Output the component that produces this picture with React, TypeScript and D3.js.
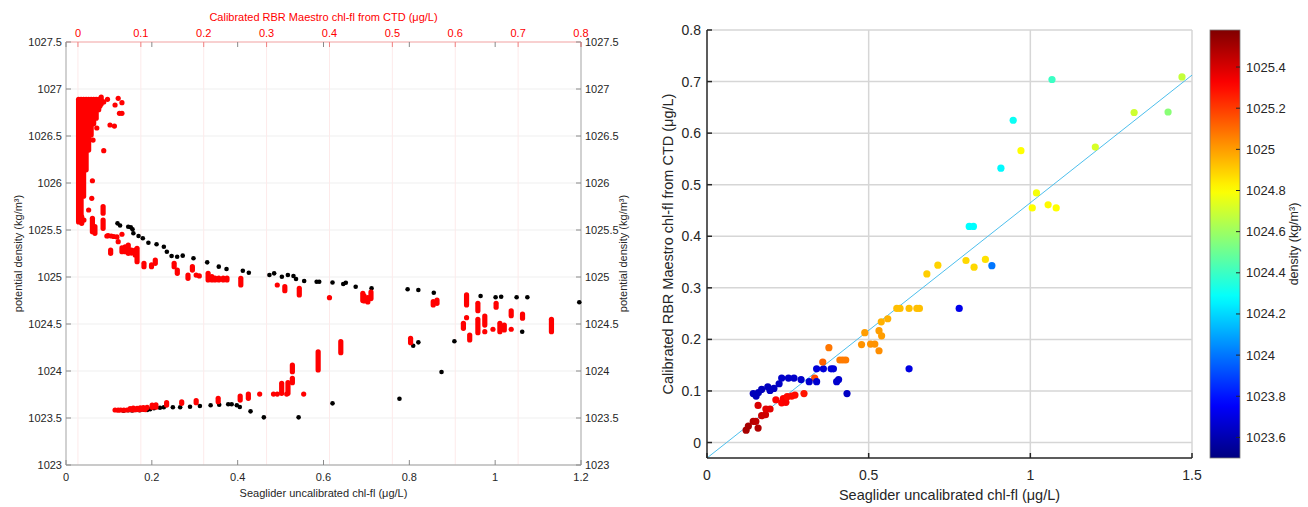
import React from 'react';
import * as d3 from 'd3';

const FONT = '"Liberation Sans", Arial, Helvetica, sans-serif';

// ---------- Left panel: profiles against potential density ----------
// Seaglider uncalibrated chl-fl (bottom axis) : [chl, density]
const gliderPoints: [number, number][] = [
  [0.120, 1025.571], [0.126, 1025.548], [0.145, 1025.535], [0.151, 1025.529], [0.155, 1025.507],
  [0.157, 1025.465], [0.169, 1025.436], [0.179, 1025.412], [0.192, 1025.365], [0.211, 1025.348],
  [0.228, 1025.322], [0.235, 1025.269], [0.246, 1025.223], [0.259, 1025.216], [0.272, 1025.227],
  [0.297, 1025.199], [0.329, 1025.156], [0.356, 1025.110], [0.374, 1025.085], [0.412, 1025.067],
  [0.426, 1025.046], [0.474, 1025.021], [0.485, 1025.039], [0.503, 1025.003], [0.517, 1025.021],
  [0.530, 1025.011], [0.536, 1024.979], [0.555, 1024.957], [0.584, 1024.950], [0.590, 1024.950],
  [0.621, 1024.941], [0.646, 1024.926], [0.652, 1024.939], [0.675, 1024.897], [0.712, 1024.880],
  [0.796, 1024.869], [0.821, 1024.862], [0.857, 1024.833], [0.966, 1024.798], [1.001, 1024.784],
  [1.014, 1024.790], [1.050, 1024.784], [1.075, 1024.784], [1.196, 1024.731],
  [0.809, 1024.269], [0.821, 1024.305], [0.905, 1024.316], [1.063, 1024.418], [0.875, 1023.989],
  [0.777, 1023.705], [0.621, 1023.656], [0.542, 1023.507], [0.461, 1023.507], [0.430, 1023.571],
  [0.405, 1023.617], [0.398, 1023.635], [0.386, 1023.646], [0.378, 1023.646], [0.357, 1023.641],
  [0.337, 1023.635], [0.312, 1023.628], [0.289, 1023.620], [0.266, 1023.614], [0.249, 1023.614],
  [0.228, 1023.614], [0.219, 1023.609], [0.205, 1023.603], [0.196, 1023.593], [0.134, 1023.578],
  [0.145, 1023.582], [0.154, 1023.580], [0.163, 1023.585], [0.172, 1023.583], [0.182, 1023.588],
  [0.189, 1023.586],
];

// Calibrated CTD chl-fl (top axis), single samples : [chl, density]
const ctdPoints: [number, number][] = [
  [0.047, 1026.890], [0.064, 1026.901], [0.059, 1026.830], [0.070, 1026.854], [0.066, 1026.741],
  [0.070, 1026.741], [0.051, 1026.617], [0.058, 1026.606], [0.041, 1026.344], [0.023, 1026.024],
  [0.022, 1025.837], [0.017, 1025.713], [0.0095, 1025.606], [0.037, 1026.915], [0.041, 1026.862],
  [0.035, 1026.819], [0.030, 1026.585], [0.024, 1026.457],
  [0.046, 1025.436], [0.048, 1025.440], [0.053, 1025.436], [0.057, 1025.431], [0.062, 1025.426],
  [0.070, 1025.455], [0.064, 1025.376],
  [0.188, 1025.021], [0.193, 1025.011], [0.317, 1024.915], [0.400, 1024.780], [0.618, 1024.567],
  [0.660, 1024.444], [0.689, 1024.444], [0.647, 1024.418],
  [0.289, 1023.755], [0.311, 1023.755], [0.317, 1023.755], [0.332, 1023.755], [0.359, 1023.755],
  [0.059, 1023.585], [0.064, 1023.583], [0.068, 1023.585], [0.073, 1023.583], [0.078, 1023.585],
  [0.083, 1023.588], [0.088, 1023.585], [0.092, 1023.590], [0.097, 1023.588], [0.102, 1023.592],
  [0.107, 1023.590], [0.083, 1023.600], [0.088, 1023.605], [0.094, 1023.603], [0.099, 1023.608],
  [0.104, 1023.610], [0.110, 1023.612],
];

// Calibrated CTD chl-fl, densely sampled stretches : [chl, densityTop, densityBottom]
const ctdRuns: [number, number, number][] = [
  [0.001, 1026.89, 1025.585], [0.005, 1026.89, 1025.66], [0.009, 1026.89, 1025.86],
  [0.013, 1026.89, 1026.14], [0.017, 1026.89, 1026.35], [0.021, 1026.89, 1026.51],
  [0.025, 1026.89, 1026.63], [0.029, 1026.89, 1026.69], [0.033, 1026.89, 1026.78],
  [0.037, 1026.89, 1026.84],
  [0.006, 1025.641, 1025.571], [0.023, 1025.624, 1025.482], [0.027, 1025.535, 1025.465],
  [0.040, 1025.748, 1025.678], [0.040, 1025.606, 1025.518], [0.052, 1025.287, 1025.252],
  [0.070, 1025.309, 1025.269], [0.075, 1025.322, 1025.269], [0.080, 1025.340, 1025.252],
  [0.085, 1025.287, 1025.255], [0.091, 1025.287, 1025.234], [0.094, 1025.305, 1025.163],
  [0.105, 1025.146, 1025.110], [0.117, 1025.128, 1025.110], [0.123, 1025.181, 1025.146],
  [0.153, 1025.146, 1025.110], [0.158, 1025.074, 1025.039], [0.175, 1025.021, 1024.986],
  [0.182, 1025.110, 1025.074], [0.207, 1025.039, 1024.968], [0.213, 1025.003, 1024.968],
  [0.218, 1024.989, 1024.968], [0.224, 1024.989, 1024.968], [0.231, 1024.989, 1024.968],
  [0.237, 1024.989, 1024.968], [0.259, 1024.986, 1024.915], [0.329, 1024.897, 1024.854],
  [0.352, 1024.880, 1024.809], [0.453, 1024.827, 1024.750], [0.455, 1024.800, 1024.745],
  [0.461, 1024.780, 1024.735], [0.466, 1024.840, 1024.770], [0.418, 1024.312, 1024.195],
  [0.529, 1024.348, 1024.301], [0.565, 1024.737, 1024.702], [0.571, 1024.755, 1024.720],
  [0.618, 1024.809, 1024.702], [0.613, 1024.507, 1024.454], [0.623, 1024.383, 1024.330],
  [0.636, 1024.720, 1024.641], [0.636, 1024.550, 1024.407], [0.647, 1024.585, 1024.489],
  [0.665, 1024.720, 1024.678], [0.671, 1024.507, 1024.418], [0.678, 1024.489, 1024.436],
  [0.689, 1024.641, 1024.588], [0.707, 1024.606, 1024.561], [0.753, 1024.550, 1024.418],
  [0.118, 1023.638, 1023.614], [0.124, 1023.640, 1023.615], [0.141, 1023.663, 1023.638],
  [0.165, 1023.673, 1023.656], [0.188, 1023.684, 1023.663], [0.223, 1023.709, 1023.673],
  [0.258, 1023.734, 1023.691], [0.271, 1023.755, 1023.709], [0.324, 1023.869, 1023.763],
  [0.334, 1023.876, 1023.763], [0.341, 1024.064, 1023.993], [0.341, 1023.922, 1023.876],
  [0.382, 1024.205, 1024.011],
];

const gliderTicks = [0, 0.2, 0.4, 0.6, 0.8, 1, 1.2];
const ctdTicks = [0, 0.1, 0.2, 0.3, 0.4, 0.5, 0.6, 0.7, 0.8];
const densityTicks = [1023, 1023.5, 1024, 1024.5, 1025, 1025.5, 1026, 1026.5, 1027, 1027.5];

// ---------- Right panel: matched samples ----------
const matchGlider = [
  0.121, 0.128, 0.143, 0.151, 0.158, 0.158, 0.169, 0.181, 0.182, 0.195, 0.213, 0.231, 0.236, 0.244,
  0.248, 0.262, 0.272, 0.300, 0.333,
  0.143, 0.152, 0.159, 0.169, 0.188, 0.195, 0.207, 0.223, 0.231, 0.252, 0.269, 0.291, 0.316, 0.339,
  0.339, 0.360, 0.384, 0.391, 0.401, 0.407, 0.433, 0.625, 0.780, 0.881,
  0.358, 0.377, 0.411, 0.420, 0.429, 0.478, 0.488, 0.506, 0.519, 0.532, 0.532, 0.540, 0.539, 0.559,
  0.587, 0.597, 0.625, 0.649, 0.657, 0.680, 0.714, 0.801, 0.826, 0.861,
  0.811, 0.824, 0.909, 0.947, 0.971, 1.006, 1.019, 1.055, 1.080, 1.067, 1.201, 1.321, 1.426, 1.469,
];
const matchCtd = [
  0.024, 0.032, 0.041, 0.041, 0.028, 0.072, 0.052, 0.054, 0.065, 0.065, 0.083, 0.077, 0.085, 0.078,
  0.089, 0.090, 0.092, 0.095, 0.125,
  0.095, 0.090, 0.097, 0.103, 0.108, 0.101, 0.105, 0.114, 0.125, 0.125, 0.125, 0.122, 0.118, 0.143,
  0.118, 0.143, 0.143, 0.143, 0.118, 0.122, 0.095, 0.143, 0.260, 0.343,
  0.156, 0.184, 0.160, 0.160, 0.160, 0.190, 0.213, 0.191, 0.191, 0.178, 0.217, 0.207, 0.234, 0.240,
  0.260, 0.260, 0.260, 0.260, 0.260, 0.327, 0.344, 0.353, 0.340, 0.355,
  0.419, 0.419, 0.532, 0.625, 0.566, 0.455, 0.484, 0.461, 0.455, 0.704, 0.573, 0.640, 0.641, 0.709,
];
const matchDensity = [
  1025.50, 1025.50, 1025.47, 1025.45, 1025.48, 1025.40, 1025.43, 1025.42, 1025.38, 1025.38, 1025.33,
  1025.32, 1025.32, 1025.33, 1025.30, 1025.30, 1025.30, 1025.28, 1025.17,
  1023.62, 1023.62, 1023.62, 1023.62, 1023.63, 1023.63, 1023.63, 1023.64, 1023.65, 1023.65, 1023.65,
  1023.65, 1023.66, 1023.68, 1023.66, 1023.68, 1023.68, 1023.68, 1023.66, 1023.66, 1023.64, 1023.70,
  1023.72, 1024.00,
  1025.12, 1025.08, 1025.07, 1025.07, 1025.07, 1025.02, 1025.00, 1025.02, 1025.02, 1025.03, 1025.00,
  1025.00, 1024.96, 1024.96, 1024.93, 1024.93, 1024.93, 1024.93, 1024.93, 1024.90, 1024.89, 1024.88,
  1024.88, 1024.86,
  1024.28, 1024.28, 1024.27, 1024.30, 1024.80, 1024.80, 1024.78, 1024.81, 1024.80, 1024.40, 1024.72,
  1024.70, 1024.56, 1024.68,
];
const fitSlope = 0.495;
const fitIntercept = -0.03;

const scatterXTicks = [0, 0.5, 1, 1.5];
const scatterYTicks = [0, 0.1, 0.2, 0.3, 0.4, 0.5, 0.6, 0.7, 0.8];
const colorbarTicks = [1023.6, 1023.8, 1024, 1024.2, 1024.4, 1024.6, 1024.8, 1025, 1025.2, 1025.4];
const densityRange: [number, number] = [1023.5, 1025.58];

// MATLAB-style jet colormap
function jet(t: number): string {
  const c = (v: number) => Math.max(0, Math.min(1, v));
  const r = c(1.5 - Math.abs(4 * t - 3));
  const g = c(1.5 - Math.abs(4 * t - 2));
  const b = c(1.5 - Math.abs(4 * t - 1));
  return d3.rgb(r * 255, g * 255, b * 255).formatHex();
}

const fmt = (v: number) => String(+v.toFixed(2));

export default function App() {
  // left panel geometry
  const L = { x0: 66, x1: 581, y0: 42, y1: 465 };
  const xG = d3.scaleLinear().domain([0, 1.2]).range([L.x0, L.x1]);
  const xC = d3.scaleLinear().domain([-0.019, 0.8]).range([L.x0, L.x1]);
  const yD = d3.scaleLinear().domain([1023, 1027.5]).range([L.y1, L.y0]);

  // right panel geometry
  const R = { x0: 707, x1: 1192, y0: 30, y1: 458 };
  const xS = d3.scaleLinear().domain([0, 1.5]).range([R.x0, R.x1]);
  const yC = d3.scaleLinear().domain([-0.03, 0.8]).range([R.y1, R.y0]);
  const cNorm = d3.scaleLinear().domain(densityRange).range([0, 1]).clamp(true);
  const colorOf = (d: number) => jet(cNorm(d));

  // colorbar
  const CB = { x0: 1210, x1: 1240, y0: 30, y1: 458 };
  const yCb = d3.scaleLinear().domain(densityRange).range([CB.y1, CB.y0]);
  const gradStops = d3.range(0, 1.0001, 0.02);

  const fitLine = d3.line<number>()
    .x((v) => xS(v))
    .y((v) => yC(fitSlope * v + fitIntercept));

  const tickColor = '#262626';
  const boxGray = '#b8b8b8';

  return (
    <div style={{ position: 'fixed', left: 0, top: 0 }}>
      <svg width={1308} height={507} style={{ display: 'block', background: '#fff', fontFamily: FONT }}>
        <defs>
          <clipPath id="scatterClip">
            <rect x={R.x0} y={R.y0} width={R.x1 - R.x0} height={R.y1 - R.y0} />
          </clipPath>
          <linearGradient id="jetGrad" x1="0" y1="1" x2="0" y2="0">
            {gradStops.map((t) => (
              <stop key={t} offset={t} stopColor={jet(t)} />
            ))}
          </linearGradient>
        </defs>

        {/* ===== Left panel ===== */}
        <g>
          {densityTicks.slice(1, -1).map((d) => (
            <line key={'hg' + d} x1={L.x0} x2={L.x1} y1={yD(d)} y2={yD(d)} stroke="#efefef" strokeWidth={1} />
          ))}
          {ctdTicks.slice(0, -1).map((v) => (
            <line key={'vg' + v} x1={xC(v)} x2={xC(v)} y1={L.y0} y2={L.y1} stroke="#fdeaea" strokeWidth={1} />
          ))}

          {/* box */}
          <line x1={L.x0} x2={L.x0} y1={L.y0} y2={L.y1} stroke={boxGray} strokeWidth={1.3} />
          <line x1={L.x1} x2={L.x1} y1={L.y0} y2={L.y1} stroke={boxGray} strokeWidth={1.3} />
          <line x1={L.x0} x2={L.x1} y1={L.y1} y2={L.y1} stroke={boxGray} strokeWidth={1.6} />
          <line x1={L.x0} x2={L.x1} y1={L.y0} y2={L.y0} stroke="#f6c0c0" strokeWidth={1.6} />

          {/* ticks */}
          {gliderTicks.map((v) => (
            <g key={'gt' + v}>
              <line x1={xG(v)} x2={xG(v)} y1={L.y1} y2={L.y1 - 5} stroke="#8a8a8a" strokeWidth={1} />
              <line x1={xG(v)} x2={xG(v)} y1={L.y0} y2={L.y0 + 5} stroke="#8a8a8a" strokeWidth={1} />
              <text x={xG(v)} y={L.y1 + 16} textAnchor="middle" fontSize={11} fill={tickColor}>{fmt(v)}</text>
            </g>
          ))}
          {ctdTicks.map((v) => (
            <g key={'ct' + v}>
              <line x1={xC(v)} x2={xC(v)} y1={L.y0} y2={L.y0 + 5} stroke="#f08080" strokeWidth={1} />
              <text x={xC(v)} y={L.y0 - 5} textAnchor="middle" fontSize={11} fill="#ff0000">{fmt(v)}</text>
            </g>
          ))}
          {densityTicks.map((d) => (
            <g key={'dt' + d}>
              <line x1={L.x0} x2={L.x0 + 5} y1={yD(d)} y2={yD(d)} stroke="#8a8a8a" strokeWidth={1} />
              <line x1={L.x1} x2={L.x1 - 5} y1={yD(d)} y2={yD(d)} stroke="#8a8a8a" strokeWidth={1} />
              <text x={L.x0 - 4} y={yD(d)} textAnchor="end" dominantBaseline="central" fontSize={11} fill={tickColor}>{fmt(d)}</text>
              <text x={L.x1 + 4} y={yD(d)} textAnchor="start" dominantBaseline="central" fontSize={11} fill={tickColor}>{fmt(d)}</text>
            </g>
          ))}

          {/* axis titles */}
          <text x={(L.x0 + L.x1) / 2} y={21} textAnchor="middle" fontSize={11} fill="#ff0000">
            Calibrated RBR Maestro chl-fl from CTD (μg/L)
          </text>
          <text x={(L.x0 + L.x1) / 2} y={497} textAnchor="middle" fontSize={11} fill={tickColor}>
            Seaglider uncalibrated chl-fl (μg/L)
          </text>
          <text transform={`translate(18,${(L.y0 + L.y1) / 2}) rotate(-90)`} textAnchor="middle" dominantBaseline="central" fontSize={11} fill={tickColor}>
            potential density (kg/m³)
          </text>
          <text transform={`translate(623,${(L.y0 + L.y1) / 2}) rotate(-90)`} textAnchor="middle" dominantBaseline="central" fontSize={11} fill={tickColor}>
            potential density (kg/m³)
          </text>

          {/* Seaglider samples */}
          {gliderPoints.map(([v, d], i) => (
            <circle key={'g' + i} cx={xG(v)} cy={yD(d)} r={2.3} fill="#000" />
          ))}
          {/* CTD samples */}
          {ctdRuns.map(([v, d0, d1], i) => (
            <line key={'r' + i} x1={xC(v)} x2={xC(v)} y1={yD(d0)} y2={yD(d1)} stroke="#ff0000" strokeWidth={5.2} strokeLinecap="round" />
          ))}
          {ctdPoints.map(([v, d], i) => (
            <circle key={'c' + i} cx={xC(v)} cy={yD(d)} r={2.6} fill="#ff0000" />
          ))}
        </g>

        {/* ===== Right panel ===== */}
        <g>
          {scatterYTicks.map((v) => (
            <line key={'sy' + v} x1={R.x0} x2={R.x1} y1={yC(v)} y2={yC(v)} stroke="#d6d6d6" strokeWidth={1.5} />
          ))}
          {scatterXTicks.slice(1).map((v) => (
            <line key={'sx' + v} x1={xS(v)} x2={xS(v)} y1={R.y0} y2={R.y1} stroke="#d6d6d6" strokeWidth={1.5} />
          ))}

          <g clipPath="url(#scatterClip)">
            <path d={fitLine([0, 1.5]) || ''} fill="none" stroke="#4dbfed" strokeWidth={1} />
          </g>

          {matchGlider.map((v, i) => (
            <circle key={'m' + i} cx={xS(v)} cy={yC(matchCtd[i])} r={3.6} fill={colorOf(matchDensity[i])} />
          ))}

          {/* axes */}
          <line x1={R.x0} x2={R.x0} y1={R.y0} y2={R.y1} stroke={tickColor} strokeWidth={1.5} />
          <line x1={R.x0} x2={R.x1} y1={R.y1} y2={R.y1} stroke={tickColor} strokeWidth={1.5} />
          {scatterYTicks.map((v) => (
            <g key={'syt' + v}>
              <line x1={R.x0} x2={R.x0 + 5} y1={yC(v)} y2={yC(v)} stroke={tickColor} strokeWidth={1.5} />
              <text x={R.x0 - 6} y={yC(v)} textAnchor="end" dominantBaseline="central" fontSize={14} fill={tickColor}>{fmt(v)}</text>
            </g>
          ))}
          {scatterXTicks.map((v) => (
            <g key={'sxt' + v}>
              <line x1={xS(v)} x2={xS(v)} y1={R.y1} y2={R.y1 - 5} stroke={tickColor} strokeWidth={1.5} />
              <text x={xS(v)} y={R.y1 + 22} textAnchor="middle" fontSize={14} fill={tickColor}>{fmt(v)}</text>
            </g>
          ))}
          <text x={(R.x0 + R.x1) / 2} y={500} textAnchor="middle" fontSize={14.5} fill={tickColor}>
            Seaglider uncalibrated chl-fl (μg/L)
          </text>
          <text transform={`translate(668,${(R.y0 + R.y1) / 2}) rotate(-90)`} textAnchor="middle" dominantBaseline="central" fontSize={14.5} fill={tickColor}>
            Calibrated RBR Maestro chl-fl from CTD (μg/L)
          </text>
        </g>

        {/* ===== Colorbar ===== */}
        <g>
          <rect x={CB.x0} y={CB.y0} width={CB.x1 - CB.x0} height={CB.y1 - CB.y0} fill="url(#jetGrad)" stroke="#7a7a7a" strokeWidth={0.8} />
          {colorbarTicks.map((d) => (
            <g key={'cb' + d}>
              <line x1={CB.x1} x2={CB.x1 - 4} y1={yCb(d)} y2={yCb(d)} stroke={tickColor} strokeWidth={1} />
              <text x={CB.x1 + 6} y={yCb(d)} dominantBaseline="central" fontSize={13} fill={tickColor}>{fmt(d)}</text>
            </g>
          ))}
          <text transform={`translate(1294,${(CB.y0 + CB.y1) / 2}) rotate(-90)`} textAnchor="middle" dominantBaseline="central" fontSize={12.5} fill={tickColor}>
            density (kg/m³)
          </text>
        </g>
      </svg>
    </div>
  );
}
